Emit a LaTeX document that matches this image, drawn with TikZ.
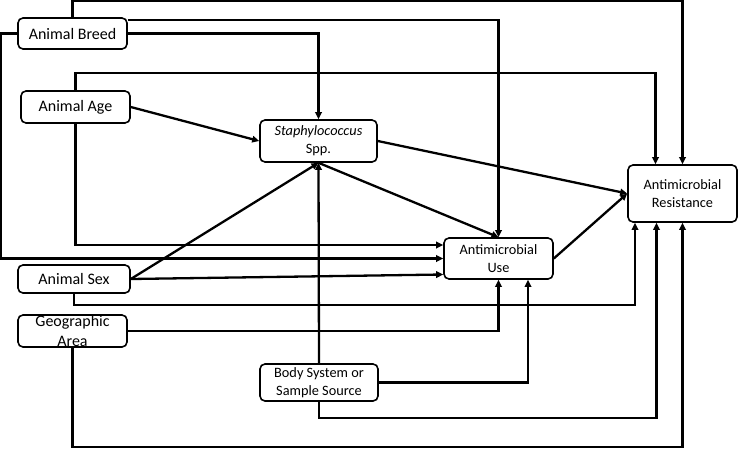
\documentclass[tikz,border=0pt]{standalone}
\usepackage{fontspec}
\setmainfont{Carlito}
\usetikzlibrary{arrows.meta,calc}
\begin{document}
\begin{tikzpicture}[x=1pt,y=-1pt,
  box/.style={draw, line width=1.6pt, rounded corners=5pt, inner sep=0pt, align=center, fill=white},
  big/.style={font=\fontsize{16}{19.5}\selectfont},
  small/.style={font=\fontsize{14.3}{18}\selectfont},
  arr/.style={line width=2.3pt, -{Triangle[length=7pt,width=6.5pt]}}]
\useasboundingbox (0,0) rectangle (740,448);
% nodes
\node[box,big,minimum width=109pt,minimum height=31pt] (breed) at (72.5,33.5) {Animal Breed};
\node[box,big,minimum width=109pt,minimum height=32pt] (age) at (75.5,107) {Animal Age};
\node[box,small,minimum width=117pt,minimum height=42pt] (staph) at (318.5,141) {\textit{Staphylococcus}\\Spp.};
\node[box,small,minimum width=109pt,minimum height=57pt] (amr) at (682.5,193.5) {Antimicrobial\\Resistance};
\node[box,small,minimum width=109pt,minimum height=41pt] (amu) at (498.5,258.5) {Antimicrobial\\Use};
\node[box,big,minimum width=112pt,minimum height=28pt] (sex) at (74,279) {Animal Sex};
\node[box,minimum width=109pt,minimum height=32pt] (geo) at (72.5,331) {};
\node[big,align=center,inner sep=0pt] (geotext) at (geo.center) {Geographic\\Area};
\node[box,small,minimum width=118pt,minimum height=37pt] (body) at (319,382.5) {Body System or\\Sample Source};
% connectors
\draw[arr] (breed.north) -- ++(0,-16) -| (amr.north);
\draw[arr] ($(breed.north east)+(0,3)$) -| (amu.north);
\draw[arr] (breed.east) -| (staph.north);
\draw[arr] (breed.west) -- ++(-16,0) |- (amu.west);
\draw[arr] (age.north) -- ++(0,-17) -| ($(amr.north)+(-27,0)$);
\draw[arr] (age.east) -- (staph.west);
\draw[arr] (age.south) |- ($(amu.west)+(0,-13.5)$);
\draw[arr] (staph.east) -- (amr.west);
\draw[arr] (staph.south) -- (amu.north);
\draw[arr] (sex.east) -- (staph.south);
\draw[arr] (sex.east) -- ($(amu.west)+(0,16)$);
\draw[arr] (sex.south) -- ++(0,11) -| ($(amr.south)+(-47.5,0)$);
\draw[arr] (body.north) -- (staph.south);
\draw[arr] (geo.east) -| (amu.south);
\draw[arr] (body.east) -| ($(amu.south)+(29.5,0)$);
\draw[arr] (body.south) -- ++(0,16) -| ($(amr.south)+(-26,0)$);
\draw[arr] (geo.south) -- ++(0,99) -| (amr.south);
\draw[arr] (amu.east) -- (amr.west);
\end{tikzpicture}
\end{document}
